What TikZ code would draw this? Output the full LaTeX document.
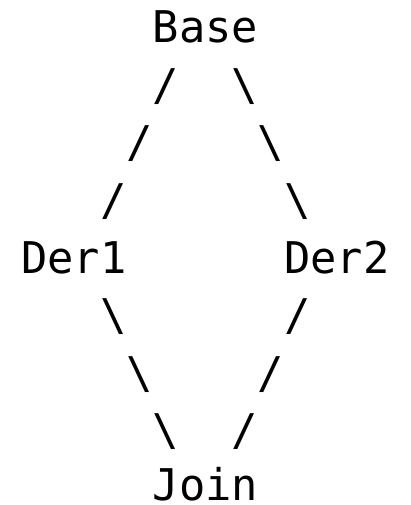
\documentclass[tikz,border=0pt]{standalone}
\usepackage{fontspec}
\newfontfamily\asciimono{DejaVu Sans Mono}
\begin{document}
\begin{tikzpicture}[
  x=26.3pt, y=-57.5pt,
  cell/.style={font=\asciimono\fontsize{43.7}{57.5}\selectfont, anchor=base west, inner sep=0pt, text=black}
]
% page frame: origin is the left edge of column 0 on the first baseline
\useasboundingbox (-21pt,43pt) rectangle (390pt,-462pt);

% class names
\node[cell] (base) at (5,0) {Base};
\node[cell] (der1) at (0,4) {Der1};
\node[cell] (der2) at (10,4) {Der2};
\node[cell, text depth=0pt, yshift=3pt] (join) at (5,8) {Join};

% upper diamond edges
\node[cell] (l1) at (5,1) {/};
\node[cell] (l2) at (4,2) {/};
\node[cell] (l3) at (3,3) {/};
\node[cell] (r1) at (8,1) {\textbackslash};
\node[cell] (r2) at (9,2) {\textbackslash};
\node[cell] (r3) at (10,3) {\textbackslash};

% lower diamond edges
\node[cell] (l5) at (3,5) {\textbackslash};
\node[cell] (l6) at (4,6) {\textbackslash};
\node[cell] (l7) at (5,7) {\textbackslash};
\node[cell] (r5) at (10,5) {/};
\node[cell] (r6) at (9,6) {/};
\node[cell] (r7) at (8,7) {/};
\end{tikzpicture}
\end{document}
